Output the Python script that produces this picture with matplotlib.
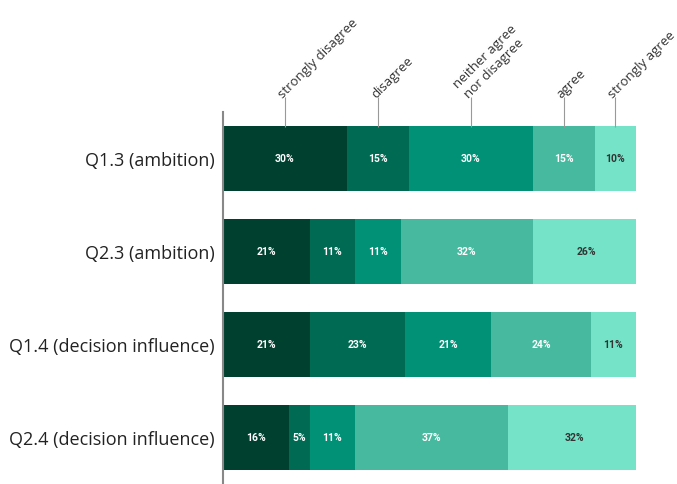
import matplotlib.pyplot as plt
import numpy as np

questions = ['Q1.3 (ambition)', 'Q2.3 (ambition)', 'Q1.4 (decision influence)', 'Q2.4 (decision influence)']
answers = ['strongly disagree', 'disagree', 'neither agree\nnor disagree', 'agree', 'strongly agree']
shares = {
    'strongly disagree': [30, 21, 21, 16],
    'disagree': [15, 11, 23, 5],
    'neither agree nor disagree': [30, 11, 21, 11],
    'agree': [15, 32, 24, 37],
    'strongly agree': [10, 26, 11, 32],
}
colors = ['#00402f', '#006a52', '#009176', '#47b99e', '#74e3c7']
text_colors = ['white', 'white', 'white', 'white', '#333333']

fig = plt.figure(figsize=(6.77, 4.85), dpi=100)
ax = fig.add_axes([223 / 677, 0, 413 / 677, 372 / 485])

y = np.arange(len(questions))
left = np.zeros(len(questions))
for (name, vals), col, tc in zip(shares.items(), colors, text_colors):
    vals = np.array(vals)
    ax.barh(y, vals, left=left, height=0.7, color=col, edgecolor='none')
    for yi, l, v in zip(y, left, vals):
        ax.text(l + v / 2, yi, f'{v}%', ha='center', va='center', color=tc,
                fontsize=7.5, fontweight='bold', family='Roboto')
    left += vals

ax.set_xlim(0, 100)
ax.set_ylim(3.5, -0.5)
ax.set_yticks(y)
ax.set_yticklabels(questions, family='Open Sans', fontsize=13, color='#222222')
ax.tick_params(axis='y', length=0, pad=6)

# category labels on top, at the middle of the first bar's segments
first = np.array([v[0] for v in shares.values()])
mids = np.cumsum(first) - first / 2
ax.xaxis.tick_top()
ax.set_xticks(mids)
ax.set_xticklabels(answers, rotation=45, ha='left', va='bottom', rotation_mode='anchor',
                   family='Open Sans', fontsize=9.5, color='#333333')
ax.tick_params(axis='x', direction='inout', length=21, width=0.8, color='#999999', pad=-2)

for s in ['top', 'right', 'bottom']:
    ax.spines[s].set_visible(False)
ax.spines['left'].set_color('#888888')
ax.spines['left'].set_linewidth(1.5)

fig.savefig('out.png', dpi=100)
